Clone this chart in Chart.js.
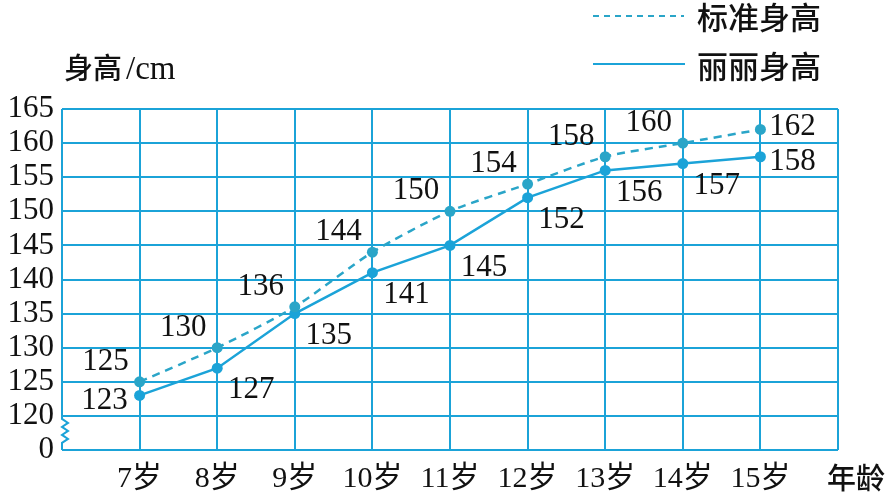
<!DOCTYPE html>
<html>
<head>
<meta charset="utf-8">
<script src="https://cdn.jsdelivr.net/npm/chart.js@4/dist/chart.umd.min.js"></script>
<style>
  html, body { margin: 0; padding: 0; background: #fff; }
  #wrap { width: 896px; height: 500px; position: relative; }
</style>
</head>
<body>
<div id="wrap"><canvas id="chartTaille"></canvas></div>
<script>
// données
var ages = [7, 8, 9, 10, 11, 12, 13, 14, 15];
var ageLabels = ['7岁', '8岁', '9岁', '10岁', '11岁', '12岁', '13岁', '14岁', '15岁'];
var standardHeights = [125, 130, 136, 144, 150, 154, 158, 160, 162];
var liliHeights = [123, 127, 135, 141, 145, 152, 156, 157, 158];
var seriesNames = ['标准身高', '丽丽身高'];
var yTickValues = [115, 120, 125, 130, 135, 140, 145, 150, 155, 160, 165];
var yTickLabels = ['0', '120', '125', '130', '135', '140', '145', '150', '155', '160', '165'];

var bleu = '#1ba3d8';
var bleuPointille = '#2aa5c8';
var policeChiffres = '"Liberation Serif", "Noto Sans CJK SC", serif';

function points(values) {
    return values.map(function (v, i) { return { x: ages[i], y: v }; });
}

// étiquettes de valeurs : standard en haut à gauche, Lili en bas à droite
var valueLabels = {
    id: 'valueLabels',
    afterDatasetsDraw: function (chart) {
        var ctx = chart.ctx;
        ctx.save();
        ctx.font = '31px ' + policeChiffres;
        ctx.fillStyle = '#111';
        ctx.textAlign = 'center';
        ctx.textBaseline = 'middle';
        var last = ages.length - 1;
        chart.getDatasetMeta(0).data.forEach(function (pt, i) {
            var dx = -34, dy = -20;
            if (i == last) { dx = 32; dy = -3; }
            ctx.fillText(String(standardHeights[i]), pt.x + dx, pt.y + dy);
        });
        chart.getDatasetMeta(1).data.forEach(function (pt, i) {
            var dx = 34, dy = 22;
            if (i == 0) { dx = -35; dy = 5; }
            if (i == last) { dx = 32; dy = 5; }
            ctx.fillText(String(liliHeights[i]), pt.x + dx, pt.y + dy);
        });
        ctx.restore();
    }
};

// bord gauche avec la coupure en zigzag, légende et titres d'axes
var decor = {
    id: 'decor',
    afterDraw: function (chart) {
        var ctx = chart.ctx;
        var area = chart.chartArea;
        var yScale = chart.scales.y;
        var y120 = yScale.getPixelForValue(120);
        ctx.save();
        ctx.strokeStyle = bleu;
        ctx.lineWidth = 2;
        ctx.beginPath();
        ctx.moveTo(area.left, area.top);
        ctx.lineTo(area.left, y120 + 3);
        var zy = y120 + 3, zx = area.left;
        var step = 8;
        for (var k = 0; k < 3; k++) {
            ctx.lineTo(zx + 6, zy + step / 2);
            ctx.lineTo(zx, zy + step);
            zy += step;
        }
        ctx.lineTo(area.left, area.bottom);
        ctx.stroke();

        // légende
        ctx.lineWidth = 2;
        ctx.strokeStyle = bleuPointille;
        ctx.setLineDash([6, 5]);
        ctx.beginPath();
        ctx.moveTo(593, 16);
        ctx.lineTo(684, 16);
        ctx.stroke();
        ctx.setLineDash([]);
        ctx.strokeStyle = bleu;
        ctx.beginPath();
        ctx.moveTo(593, 64);
        ctx.lineTo(685, 64);
        ctx.stroke();

        ctx.fillStyle = '#111';
        ctx.textBaseline = 'middle';
        ctx.textAlign = 'left';
        ctx.font = '500 31px "Noto Sans CJK SC"';
        ctx.fillText(seriesNames[0], 697, 17);
        ctx.fillText(seriesNames[1], 697, 66);

        ctx.font = '500 29px "Noto Sans CJK SC"';
        ctx.fillText('身高', 64, 68);
        ctx.font = '33px ' + policeChiffres;
        ctx.fillText('/cm', 126, 70);

        ctx.font = '500 29px "Noto Sans CJK SC"';
        ctx.fillText('年龄', 827, 478);
        ctx.restore();
    }
};

const chartElem = document.getElementById('chartTaille').getContext('2d');
const chartTaille = new Chart(chartElem, {
    type: 'line',
    data: {
        datasets: [
            {
                label: seriesNames[0],
                data: points(standardHeights),
                borderColor: bleuPointille,
                backgroundColor: bleuPointille,
                borderWidth: 2.5,
                borderDash: [8, 6],
                pointRadius: 5.5,
                pointBorderWidth: 0,
                tension: 0.25
            },
            {
                label: seriesNames[1],
                data: points(liliHeights),
                borderColor: bleu,
                backgroundColor: bleu,
                borderWidth: 2.5,
                pointRadius: 5.5,
                pointBorderWidth: 0,
                tension: 0
            }
        ]
    },
    options: {
        responsive: true,
        maintainAspectRatio: false,
        animation: false,
        layout: { padding: { top: 109, right: 58, left: 0, bottom: 0 } },
        plugins: {
            legend: { display: false },
            tooltip: { enabled: false }
        },
        scales: {
            x: {
                type: 'linear',
                min: 6,
                max: 16,
                afterFit: function (scale) { scale.height = 50; },
                afterBuildTicks: function (scale) {
                    var t = [];
                    for (var v = 6; v <= 16; v++) t.push({ value: v });
                    scale.ticks = t;
                },
                ticks: {
                    autoSkip: false,
                    maxRotation: 0,
                    padding: 11,
                    color: '#111',
                    font: { family: policeChiffres, size: 30 },
                    callback: function (v) {
                        var i = ages.indexOf(v);
                        return i >= 0 ? ageLabels[i] : '';
                    }
                },
                grid: {
                    drawTicks: false,
                    lineWidth: 2,
                    color: function (c) { return c.tick && c.tick.value == 6 ? 'rgba(0,0,0,0)' : bleu; }
                },
                border: { display: false }
            },
            y: {
                type: 'linear',
                min: 115,
                max: 165,
                afterFit: function (scale) { scale.width = 62; },
                afterBuildTicks: function (scale) {
                    scale.ticks = yTickValues.map(function (v) { return { value: v }; });
                },
                ticks: {
                    autoSkip: false,
                    padding: 8,
                    color: '#111',
                    font: { family: policeChiffres, size: 31 },
                    callback: function (v) {
                        var i = yTickValues.indexOf(v);
                        return i >= 0 ? yTickLabels[i] : '';
                    }
                },
                grid: {
                    drawTicks: false,
                    lineWidth: 2,
                    color: bleu
                },
                border: { display: false }
            }
        }
    },
    plugins: [valueLabels, decor]
});
</script>
</body>
</html>
